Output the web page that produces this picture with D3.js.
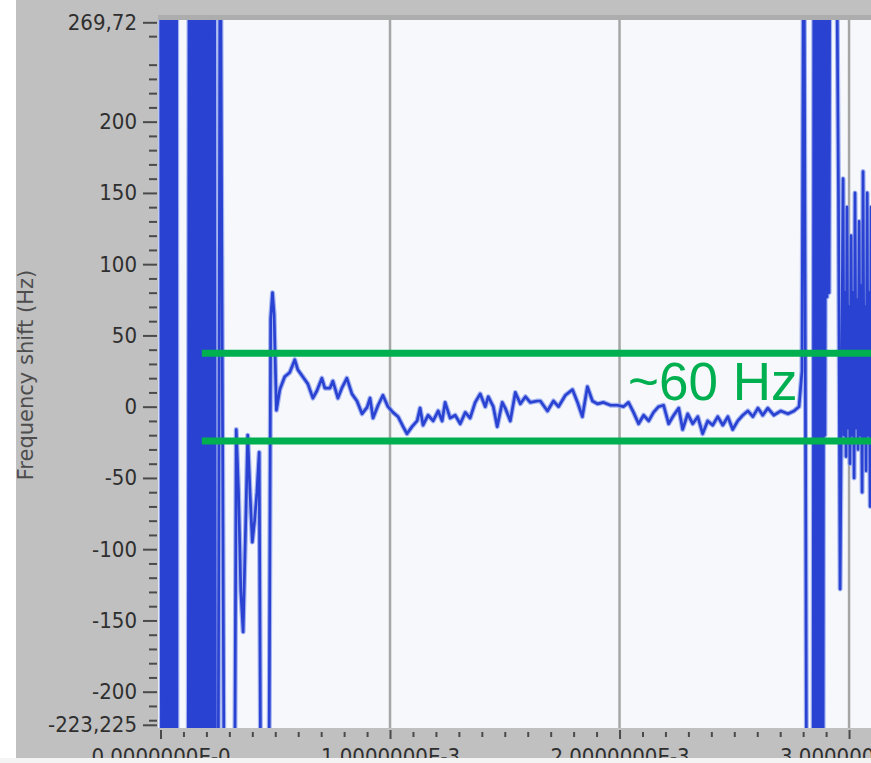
<!DOCTYPE html>
<html>
<head>
<meta charset="utf-8">
<script src="https://cdn.jsdelivr.net/npm/d3@7"></script>
<style>
  body { margin: 0; background: #fff; }
  svg { display: block; }
  .tick text { font-family: "DejaVu Sans Condensed", "DejaVu Sans", sans-serif; font-stretch: condensed; font-size: 22px; fill: #2f2f2f; }
  .tick line { stroke: #4a4a4a; stroke-width: 2; }
</style>
</head>
<body>
<svg id="chart" width="871" height="763"></svg>
<script>
// frequency shift trace (time in ms, shift in Hz)
// values beyond the axis (+-400) are the saturated bursts, clipped by the plot
const burstInMs = [0.000, 0.005, 0.010, 0.015, 0.020, 0.025, 0.030, 0.035,
  0.040, 0.045, 0.050, 0.055, 0.060, 0.065, 0.070, 0.072,
  0.120, 0.125, 0.130, 0.135, 0.140, 0.145, 0.150, 0.155, 0.160, 0.165,
  0.170, 0.175, 0.180, 0.185, 0.190, 0.195, 0.200, 0.205, 0.210, 0.215,
  0.220, 0.225, 0.230, 0.235, 0.240, 0.250, 0.260, 0.280,
  0.32, 0.33, 0.34, 0.35, 0.36, 0.37, 0.38, 0.39, 0.40, 0.41, 0.42, 0.43, 0.44,
  0.47, 0.48, 0.488, 0.495]
const burstInHz = [400, -400, 400, -400, 400, -400, 400, -400,
  400, -400, 400, -400, 400, -400, 400, -400,
  -400, 400, -400, 400, -400, 400, -400, 400, -400, 400,
  -400, 400, -400, 400, -400, 400, -400, 400, -400, 400,
  -400, 400, -400, 400, -400, -400, 400, -400,
  -400, -16, -60, -130, -158, -90, -20, -60, -95, -80, -60, -32, -400,
  -400, 62, 80, 65]

const plateauMs = [0.505, 0.520, 0.541, 0.563, 0.585, 0.598, 0.620, 0.642, 0.664, 0.681,
  0.703, 0.716, 0.738, 0.751, 0.773, 0.790, 0.812, 0.834, 0.856, 0.878,
  0.900, 0.913, 0.926, 0.948, 0.969, 0.991, 1.013, 1.035, 1.057, 1.074,
  1.096, 1.118, 1.131, 1.144, 1.166, 1.188, 1.210, 1.227, 1.240, 1.262,
  1.284, 1.306, 1.328, 1.349, 1.371, 1.393, 1.415, 1.428, 1.450, 1.467,
  1.489, 1.502, 1.524, 1.546, 1.568, 1.590, 1.611, 1.642, 1.655, 1.686,
  1.712, 1.734, 1.764, 1.795, 1.817, 1.838, 1.860, 1.882, 1.904, 1.930,
  1.961, 1.991, 2.017, 2.039, 2.061, 2.083, 2.105, 2.127, 2.148, 2.170,
  2.192, 2.214, 2.236, 2.258, 2.275, 2.297, 2.319, 2.341, 2.362, 2.384,
  2.406, 2.428, 2.450, 2.472, 2.493, 2.515, 2.537, 2.559, 2.581, 2.603,
  2.624, 2.646, 2.672, 2.703, 2.734, 2.760, 2.782]
const plateauHz = [-2.5, 12, 21, 24, 33, 26, 21, 16, 6, 11,
  20, 13, 13, 18, 6, 13, 20, 9, 4, -5,
  -0.5, 6, -8, 1, 8, 0, -4, -7, -14, -19,
  -14, -10, -1, -13, -6, -10, -3, -10, 3, -8,
  -6, -12, -4, -8, 3, 9, 0, 7, 0, -14,
  3, -1, -10, 10, 2, 7, 3, 4, 4, -3,
  4, 0, 8, 12, 3, -7, 14, 4, 2, 3,
  1, 1, 0, 3, -4, -12, -6, -10, -4, 0,
  1, -12, -6, -1, -16, -5, -12, -7, -19, -10,
  -13, -7, -13, -7, -16, -10, -6, -3, -7, -1,
  -6, -1, -6, -3, -5, -3, 0]

const burstOutMs = [2.795, 2.803, 2.817, 2.843, 2.847, 2.852, 2.856, 2.860, 2.865, 2.869,
  2.873, 2.878, 2.882, 2.886, 2.891, 2.895, 2.900, 2.904, 2.908, 2.913,
  2.917, 2.943, 2.954, 2.961, 2.974, 2.978, 2.983, 2.987, 2.991, 2.996,
  3.000, 3.004, 3.009, 3.013, 3.017, 3.022, 3.026, 3.031, 3.035, 3.039,
  3.044, 3.048, 3.052, 3.057, 3.061, 3.066, 3.070, 3.074, 3.079, 3.083,
  3.087, 3.092, 3.096, 3.100, 3.105, 3.109]
const burstOutHz = [25, 400, -400, -400, 400, -400, 400, -400, 400, -400,
  400, -400, 400, -400, 400, -20, 400, 77, 400, 80,
  400, 400, 147, -128, 160, -20, 80, -35, 140, -15,
  70, -40, 120, -20, 80, -50, 150, -15, 75, -30,
  130, -20, 85, -60, 165, -25, 70, -45, 150, -20,
  80, -70, 140, -15, 80, -40]

const yTickValues = [-223.225, -200, -150, -100, -50, 0, 50, 100, 150, 200, 269.72]
const yTickLabels = ["-223,225", "-200", "-150", "-100", "-50", "0", "50", "100", "150", "200", "269,72"]
const xTickValues = [0, 1, 2, 3]
const xTickLabels = ["0,0000000E-0", "1,0000000E-3", "2,0000000E-3", "3,0000000E-3"]

// green annotation band
const bandHz = [37.5, -24]
const bandStartMs = 0.18
const bandLabel = "~60 Hz"
const bandLabelMs = 2.037
const bandLabelHz = 4.7

const series = []
;[[burstInMs, burstInHz], [plateauMs, plateauHz], [burstOutMs, burstOutHz]].forEach(([ts, vs]) => {
  ts.forEach((t, i) => series.push({ t: t, hz: vs[i] }))
})

const svg = d3.select("#chart")

const xScale = d3.scaleLinear().domain([0, 3.1]).range([160.5, 872])
const yScale = d3.scaleLinear().domain([-223.225, 269.72]).range([724.8, 22.3])

// grey panel + plot area
svg.append("rect").attr("x", 16).attr("y", 0).attr("width", 855).attr("height", 758).attr("fill", "#c0c0c0")
svg.append("rect").attr("x", 158).attr("y", 15).attr("width", 713).attr("height", 6).attr("fill", "#adadad")
svg.append("rect").attr("x", 158).attr("y", 20).attr("width", 713).attr("height", 708).attr("fill", "#f7f8fc")

svg.append("clipPath").attr("id", "plotClip")
  .append("rect").attr("x", 158).attr("y", 20).attr("width", 713).attr("height", 708)

// vertical grid
svg.append("g")
  .selectAll("line")
  .data(xTickValues.slice(1))
  .enter().append("line")
  .attr("x1", d => xScale(d)).attr("x2", d => xScale(d))
  .attr("y1", 20).attr("y2", 728)
  .attr("stroke", "#a6a6a6")
  .attr("stroke-width", 2.5)

const line = d3.line()
  .x(d => xScale(d.t))
  .y(d => yScale(d.hz))

const trace = svg.append("g").attr("clip-path", "url(#plotClip)")

// soft halo then the trace itself
trace.append("path")
  .datum(series)
  .attr("d", line)
  .attr("fill", "none")
  .attr("stroke", "#8ea3ec")
  .attr("stroke-width", 5)
  .attr("stroke-opacity", 0.8)
  .attr("stroke-linejoin", "round")

trace.append("path")
  .datum(series)
  .attr("d", line)
  .attr("fill", "none")
  .attr("stroke", "#2a42d2")
  .attr("stroke-width", 2.7)
  .attr("stroke-linejoin", "round")

// annotation
svg.append("g")
  .selectAll("line")
  .data(bandHz)
  .enter().append("line")
  .attr("x1", xScale(bandStartMs)).attr("x2", 871)
  .attr("y1", d => yScale(d)).attr("y2", d => yScale(d))
  .attr("stroke", "#00b050")
  .attr("stroke-width", 7)

svg.append("text")
  .attr("x", xScale(bandLabelMs))
  .attr("y", yScale(bandLabelHz))
  .attr("font-family", "'Liberation Sans', Arial, sans-serif")
  .attr("font-size", 53)
  .attr("fill", "#00b050")
  .text(bandLabel)

// y axis
const yMinor = d3.range(-220, 270, 10).filter(d => d % 50 !== 0)
svg.append("g")
  .attr("transform", "translate(157,0)")
  .call(d3.axisLeft(yScale).tickValues(yMinor).tickSize(8).tickFormat(""))
  .call(g => g.select(".domain").remove())

svg.append("g")
  .attr("transform", "translate(157,0)")
  .call(d3.axisLeft(yScale).tickValues(yTickValues).tickSize(14).tickPadding(6)
    .tickFormat((d, i) => yTickLabels[i]))
  .call(g => g.select(".domain").remove())

// x axis
const xMinor = d3.range(0, 31).map(d => d / 10).filter(d => d % 1 !== 0)
svg.append("g")
  .attr("transform", "translate(0,732)")
  .call(d3.axisBottom(xScale).tickValues(xMinor).tickSize(5).tickFormat(""))
  .call(g => g.select(".domain").remove())

svg.append("g")
  .attr("transform", "translate(0,730)")
  .call(d3.axisBottom(xScale).tickValues(xTickValues).tickSize(9).tickPadding(9.4)
    .tickFormat((d, i) => xTickLabels[i]))
  .call(g => g.select(".domain").remove())

// bottom strip cuts the x labels like in the screenshot
svg.append("rect").attr("x", 0).attr("y", 758).attr("width", 871).attr("height", 5).attr("fill", "#f4f4f4")

svg.append("text")
  .attr("transform", "translate(33,375) rotate(-90)")
  .attr("text-anchor", "middle")
  .attr("font-family", "'DejaVu Sans', sans-serif")
  .attr("font-size", 21)
  .attr("fill", "#4d4d4d")
  .text("Frequency shift (Hz)")
</script>
</body>
</html>
